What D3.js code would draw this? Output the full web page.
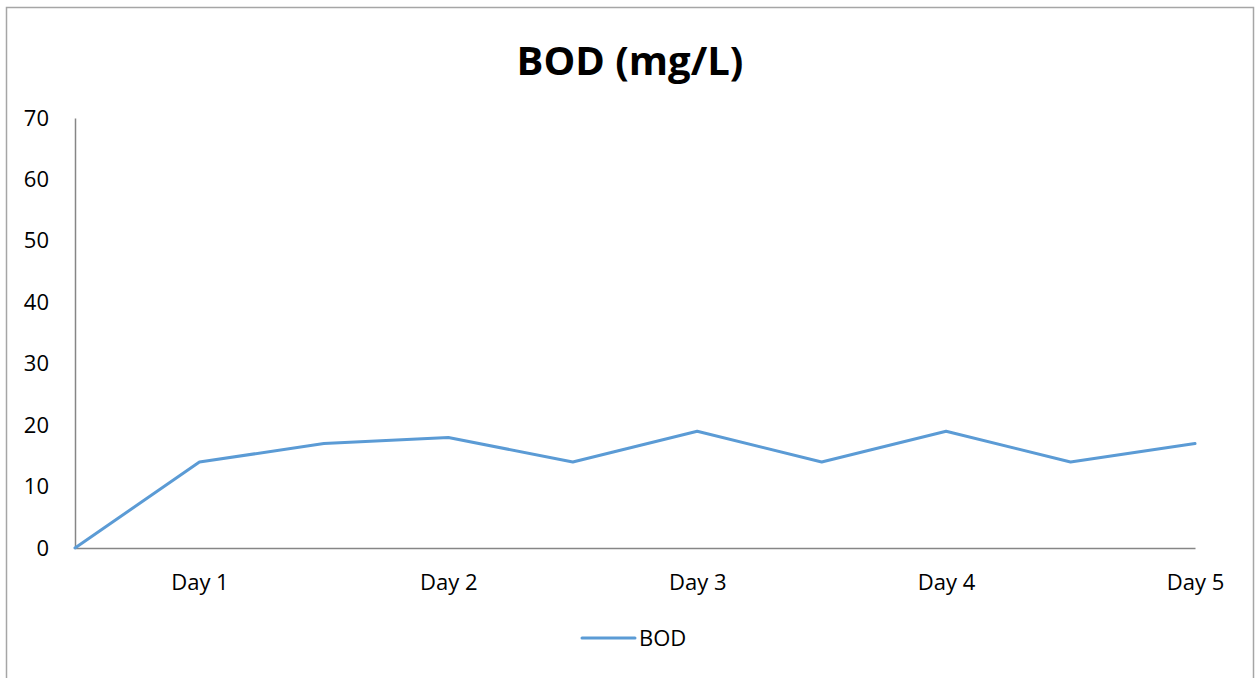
<!DOCTYPE html>
<html>
<head>
<meta charset="utf-8">
<script src="https://cdn.jsdelivr.net/npm/d3@7"></script>
<style>
  html, body { margin: 0; padding: 0; background: #fff; }
  svg { display: block; }
  text { font-family: "Open Sans", Lato, "Liberation Sans", sans-serif; fill: #000; }
</style>
</head>
<body>
<svg id="chart" width="1260" height="678"></svg>
<script>
// BOD readings, sampled twice per day (labels shown on each full day)
const categories = ["", "Day 1", "", "Day 2", "", "Day 3", "", "Day 4", "", "Day 5"];
const bodValues = [0, 14, 17, 18, 14, 19, 14, 19, 14, 17];
const yTicks = [0, 10, 20, 30, 40, 50, 60, 70];
const seriesName = "BOD";
const chartTitle = "BOD (mg/L)";

const svg = d3.select("#chart");
const plot = { left: 75, right: 1195, top: 118, bottom: 548 };
const labelFont = "\"Open Sans\", Lato, sans-serif";

// chart area frame
svg.append("rect")
  .attr("x", 6.5).attr("y", 7.5)
  .attr("width", 1247).attr("height", 700)
  .attr("fill", "#fff")
  .attr("stroke", "#a6a6a6")
  .attr("stroke-width", 1.5);

// title
svg.append("text")
  .attr("x", 630).attr("y", 75)
  .attr("text-anchor", "middle")
  .style("font-size", "40px")
  .style("font-weight", "bold")
  .text(chartTitle);

const x = d3.scalePoint()
  .domain(d3.range(categories.length))
  .range([plot.left, plot.right]);

const y = d3.scaleLinear()
  .domain([0, 70])
  .range([plot.bottom, plot.top]);

// y axis
const yAxis = svg.append("g")
  .attr("transform", `translate(${plot.left},0)`)
  .call(d3.axisLeft(y).tickValues(yTicks).tickSize(0).tickPadding(26));
yAxis.select(".domain").attr("stroke", "#868686").attr("stroke-width", 1.5);
yAxis.selectAll("text").style("font-size", "22px").style("font-family", labelFont);

// x axis
const xAxis = svg.append("g")
  .attr("transform", `translate(0,${plot.bottom})`)
  .call(d3.axisBottom(x).tickSize(0).tickPadding(26)
    .tickFormat(i => categories[i]));
xAxis.select(".domain").attr("stroke", "#868686").attr("stroke-width", 1.5);
xAxis.selectAll("text").style("font-size", "22px").style("font-family", labelFont);

// series line
const line = d3.line()
  .x((d, i) => x(i))
  .y(d => y(d));

svg.append("path")
  .datum(bodValues)
  .attr("d", line)
  .attr("fill", "none")
  .attr("stroke", "#5b9bd5")
  .attr("stroke-width", 3)
  .attr("stroke-linejoin", "round")
  .attr("stroke-linecap", "round");

// legend
const legend = svg.append("g").attr("transform", "translate(582,638)");
legend.append("line")
  .attr("x1", 0).attr("x2", 53)
  .attr("y1", 0).attr("y2", 0)
  .attr("stroke", "#5b9bd5")
  .attr("stroke-width", 3)
  .attr("stroke-linecap", "round");
legend.append("text")
  .attr("x", 57).attr("y", 0)
  .attr("dy", "0.35em")
  .style("font-size", "22px")
  .text(seriesName);
</script>
</body>
</html>
